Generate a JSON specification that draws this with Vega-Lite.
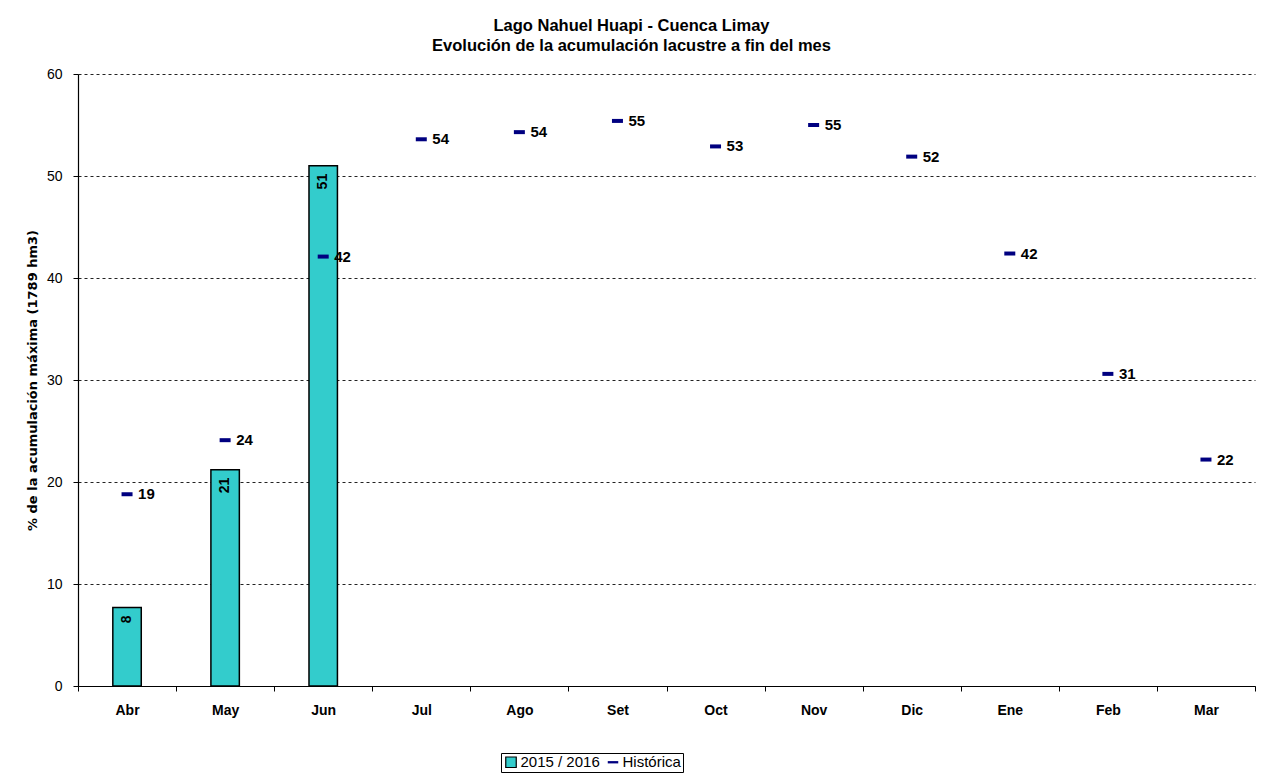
{
  "$schema": "https://vega.github.io/schema/vega-lite/v6.json",
  "autosize": "none",
  "width": 1177,
  "height": 612,
  "padding": {"left": 78, "top": 74, "right": 11, "bottom": 95},
  "background": "white",
  "title": {
    "text": ["Lago Nahuel Huapi - Cuenca Limay", "Evolución de la acumulación lacustre a fin del mes"],
    "font": "Liberation Sans",
    "fontSize": 16.5,
    "fontWeight": "bold",
    "color": "black",
    "lineHeight": 20,
    "anchor": "middle",
    "dx": -35,
    "offset": 13
  },
  "config": {
    "view": {"stroke": null},
    "font": "Liberation Sans"
  },
  "data": {
    "values": [
      {"mes": "Abr", "actual": 7.7, "hist": 18.8},
      {"mes": "May", "actual": 21.2, "hist": 24.1},
      {"mes": "Jun", "actual": 51.0, "hist": 42.1},
      {"mes": "Jul", "actual": null, "hist": 53.6},
      {"mes": "Ago", "actual": null, "hist": 54.3},
      {"mes": "Set", "actual": null, "hist": 55.4},
      {"mes": "Oct", "actual": null, "hist": 52.9},
      {"mes": "Nov", "actual": null, "hist": 55.0},
      {"mes": "Dic", "actual": null, "hist": 51.9},
      {"mes": "Ene", "actual": null, "hist": 42.4},
      {"mes": "Feb", "actual": null, "hist": 30.6},
      {"mes": "Mar", "actual": null, "hist": 22.2}
    ]
  },
  "encoding": {
    "x": {
      "field": "mes",
      "type": "nominal",
      "sort": ["Abr", "May", "Jun", "Jul", "Ago", "Set", "Oct", "Nov", "Dic", "Ene", "Feb", "Mar"],
      "scale": {"paddingInner": 0, "paddingOuter": 0},
      "axis": {
        "title": null,
        "labelAngle": 0,
        "labelFont": "Liberation Sans",
        "labelFontSize": 14,
        "labelFontWeight": "bold",
        "labelColor": "black",
        "labelPadding": 12,
        "tickBand": "extent",
        "tickSize": 5,
        "tickColor": "black",
        "domainColor": "black",
        "domainWidth": 1.2,
        "grid": false
      }
    }
  },
  "layer": [
    {
      "mark": {"type": "bar", "width": {"band": 0.29}, "stroke": "black", "strokeWidth": 1.5},
      "encoding": {
        "y": {
          "field": "actual",
          "type": "quantitative",
          "scale": {"domain": [0, 60], "nice": false},
          "axis": {
            "title": "% de la acumulación máxima (1789 hm3)",
            "titleFont": "DejaVu Sans",
            "titleFontSize": 13,
            "titleFontWeight": "bold",
            "titleColor": "black",
            "titlePadding": 7,
            "values": [0, 10, 20, 30, 40, 50, 60],
            "labelFont": "Liberation Sans",
            "labelFontSize": 14,
            "labelColor": "black",
            "labelPadding": 11,
            "tickSize": 5,
            "tickColor": "black",
            "domainColor": "black",
            "domainWidth": 1.2,
            "grid": true,
            "gridColor": "#222222",
            "gridDash": [3, 3],
            "gridWidth": 1
          }
        },
        "color": {
          "datum": "2015 / 2016",
          "type": "nominal",
          "scale": {"domain": ["2015 / 2016", "Histórica"], "range": ["#33CCCC", "#000080"]},
          "legend": {
            "orient": "none",
            "legendX": 423,
            "legendY": 679,
            "direction": "horizontal",
            "title": null,
            "strokeColor": "black",
            "padding": 1.5,
            "labelFont": "Liberation Sans",
            "labelFontSize": 15,
            "labelColor": "black",
            "symbolSize": 110,
            "symbolType": "square",
            "symbolStrokeColor": "black",
            "symbolStrokeWidth": 1.2,
            "symbolOpacity": 1,
            "columnPadding": 4,
            "labelOffset": 2,
            "symbolOffset": 1,
            "encode": {
              "symbols": {
                "update": {
                  "shape": {"signal": "datum.value === 'Histórica' ? 'M-1,-0.22H1V0.22H-1Z' : 'square'"},
                  "strokeWidth": {"signal": "datum.value === 'Histórica' ? 0 : 1.2"}
                }
              }
            }
          }
        }
      }
    },
    {
      "mark": {"type": "text", "angle": 270, "align": "right", "baseline": "middle", "dx": -8, "font": "Liberation Sans", "fontSize": 14, "fontWeight": "bold", "color": "black"},
      "encoding": {
        "y": {"field": "actual", "type": "quantitative"},
        "text": {"field": "actual", "type": "quantitative", "format": ".0f"}
      }
    },
    {
      "mark": {"type": "tick", "size": 11, "thickness": 4, "orient": "horizontal", "opacity": 1},
      "encoding": {
        "y": {"field": "hist", "type": "quantitative"},
        "color": {"datum": "Histórica", "type": "nominal"}
      }
    },
    {
      "mark": {"type": "text", "align": "left", "baseline": "middle", "dx": 11, "font": "Liberation Sans", "fontSize": 15, "fontWeight": "bold", "color": "black"},
      "encoding": {
        "y": {"field": "hist", "type": "quantitative"},
        "text": {"field": "hist", "type": "quantitative", "format": ".0f"}
      }
    }
  ]
}
